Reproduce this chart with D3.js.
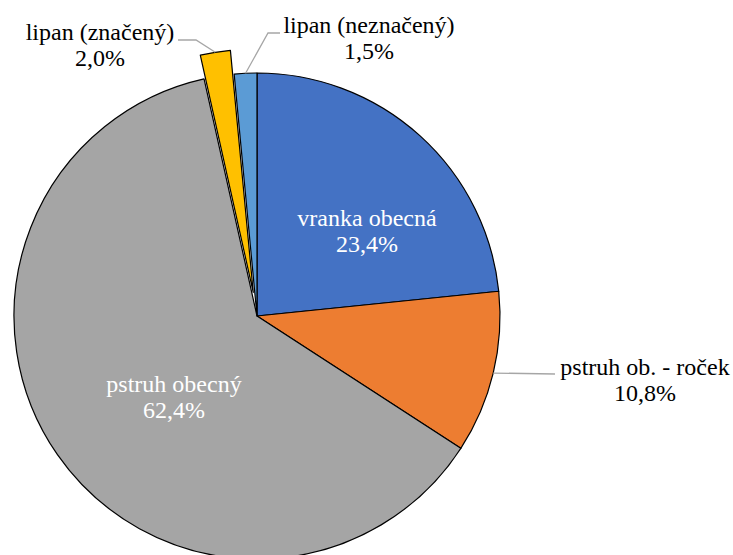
<!DOCTYPE html>
<html>
<head>
<meta charset="utf-8">
<script src="https://cdn.jsdelivr.net/npm/d3@7"></script>
<style>
  html, body { margin: 0; padding: 0; background: #fff; }
  svg { display: block; }
</style>
</head>
<body>
<svg id="chart" width="733" height="555"></svg>
<script>
// ---- data ----
const categories = ["vranka obecná", "pstruh ob. - roček", "pstruh obecný", "lipan (značený)", "lipan (neznačený)"];
const values = [23.4, 10.8, 62.4, 2.0, 1.5];
const valueLabels = ["23,4%", "10,8%", "62,4%", "2,0%", "1,5%"];
const colors = ["#4472C4", "#ED7D31", "#A5A5A5", "#FFC000", "#5B9BD5"];

// ---- layout (not data) ----
const cx = 257, cy = 316, R = 243;
const explode = [0, 0, 0, 24, 0];
// label anchor relative to center (first baseline), leader elbow/end relative to center
const labelLayout = [
  { dx: 110, dy: -90, inside: true },
  { dx: 388, dy: 59, leader: [[298, 58], [298, 58]] },
  { dx: -83, dy: 76, inside: true },
  { dx: -157, dy: -276, leader: [[-61, -276], [-79, -276]] },
  { dx: 112, dy: -283, leader: [[11, -283], [23, -283]] }
];
const fontSize = 24, lineH = 26;

const svg = d3.select("#chart");
const g = svg.append("g").attr("transform", `translate(${cx},${cy})`);

const pie = d3.pie().sort(null).value(d => d).startAngle(0).endAngle(2 * Math.PI);
const arcs = pie(values);
const arc = d3.arc().innerRadius(0).outerRadius(R);

g.selectAll("path.slice")
  .data(arcs)
  .join("path")
  .attr("class", "slice")
  .attr("d", arc)
  .attr("fill", (d, i) => colors[i])
  .attr("stroke", "#000")
  .attr("stroke-width", 1.2)
  .attr("stroke-linejoin", "round")
  .attr("transform", (d, i) => {
    const a = (d.startAngle + d.endAngle) / 2;
    return `translate(${explode[i] * Math.sin(a)},${-explode[i] * Math.cos(a)})`;
  });

// leader lines
arcs.forEach((d, i) => {
  const L = labelLayout[i];
  if (!L.leader) return;
  const a = (d.startAngle + d.endAngle) / 2;
  const r = R + explode[i];
  const p0 = [r * Math.sin(a), -r * Math.cos(a)];
  const pts = [p0, ...L.leader];
  g.append("path")
    .attr("d", d3.line()(pts))
    .attr("fill", "none")
    .attr("stroke", "#A6A6A6")
    .attr("stroke-width", 1.3);
});

// labels
arcs.forEach((d, i) => {
  const L = labelLayout[i];
  const t = g.append("text")
    .attr("x", L.dx)
    .attr("y", L.dy)
    .attr("text-anchor", "middle")
    .attr("font-family", "'Liberation Serif', 'Times New Roman', serif")
    .attr("font-size", fontSize)
    .attr("fill", L.inside ? "#fff" : "#000");
  t.append("tspan").attr("x", L.dx).attr("y", L.dy).text(categories[i]);
  t.append("tspan").attr("x", L.dx).attr("y", L.dy + lineH).text(valueLabels[i]);
});
</script>
</body>
</html>
